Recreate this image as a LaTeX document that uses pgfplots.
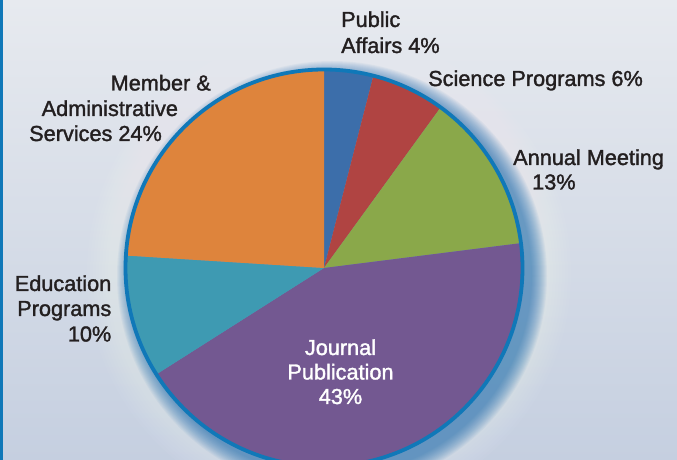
\documentclass[border=0pt]{standalone}
\usepackage{pgfplots}
\pgfplotsset{compat=1.18}
\usepackage{pgfplotstable}
\usepackage{fontspec}
\setmainfont{Liberation Sans}[BoldFont={Liberation Sans}, BoldFeatures={FakeBold=1.5}]

\definecolor{slice0}{RGB}{60,110,170}
\definecolor{slice1}{RGB}{176,68,66}
\definecolor{slice2}{RGB}{138,168,74}
\definecolor{slice3}{RGB}{115,88,145}
\definecolor{slice4}{RGB}{62,154,178}
\definecolor{slice5}{RGB}{222,132,60}
\definecolor{ring}{RGB}{16,120,184}
\definecolor{shadowblue}{RGB}{25,105,175}
\definecolor{bgtop}{RGB}{231,234,239}
\definecolor{bgbot}{RGB}{197,207,224}
\definecolor{txt}{RGB}{35,31,32}

\newcommand\lf{\fontsize{21.7}{26}\selectfont\bfseries}

% shares in percent, clockwise from the top
\pgfplotstableread{
label value
PublicAffairs 4
SciencePrograms 6
AnnualMeeting 13
JournalPublication 43
EducationPrograms 10
MemberAdministrative 24
}\piedata

\begin{document}
\begin{tikzpicture}
\begin{axis}[
  width=677pt, height=460pt, scale only axis,
  xmin=0, xmax=677, ymin=-460, ymax=0,
  hide axis, clip=true,
]
% background
\shade[top color=bgtop, bottom color=bgbot] (axis cs:0,0) rectangle (axis cs:677,-460);
\fill[ring] (axis cs:0,0) rectangle (axis cs:3,-460);

% light halo
\pgfplotsinvokeforeach{242,239,236,233,230,227,224,221}{
  \fill[white, opacity=0.035] (axis cs:329,-273) circle[radius=#1pt];
}
% soft shadow
\pgfplotsinvokeforeach{215,214,213,212,211,210,209,208,207,206,205,204,203,202,201,200}{
  \fill[shadowblue, opacity=0.05] (axis cs:332,-276) circle[radius=#1pt];
}

% slices
\def\cum{0}
\pgfplotsforeachungrouped \i in {0,...,5}{
  \pgfplotstablegetelem{\i}{value}\of\piedata
  \let\v\pgfplotsretval
  \pgfmathsetmacro{\aStart}{90-3.6*\cum}
  \pgfmathsetmacro{\cum}{\cum+\v}
  \pgfmathsetmacro{\aEnd}{90-3.6*\cum}
  \edef\temp{\noexpand\fill[slice\i] (axis cs:324,-268) -- ++(\aStart:198pt) arc[start angle=\aStart, end angle=\aEnd, radius=198pt] -- cycle;}
  \temp
}
\draw[ring, line width=3.8pt] (axis cs:324,-268) circle[radius=198.5pt];

% labels
\begin{scope}[every node/.style={inner sep=0pt, text=txt, font=\lf}]
\node[anchor=base west] at (axis cs:341,-27) {Public};
\node[anchor=base west] at (axis cs:341,-53) {Affairs 4\%};
\node[anchor=base west] at (axis cs:428,-86) {Science Programs 6\%};
\node[anchor=base west] at (axis cs:513,-165) {Annual Meeting};
\node[anchor=base west] at (axis cs:532,-189.5) {13\%};
\node[anchor=base west] at (axis cs:110.5,-90.5) {Member \&};
\node[anchor=base west] at (axis cs:41.5,-116) {Administrative};
\node[anchor=base west] at (axis cs:29,-141) {Services 24\%};
\node[anchor=base east] at (axis cs:111.5,-291) {Education};
\node[anchor=base east] at (axis cs:111.5,-316) {Programs};
\node[anchor=base east] at (axis cs:111.5,-341.5) {10\%};
\node[anchor=base, text=white] at (axis cs:340.5,-355) {Journal};
\node[anchor=base, text=white] at (axis cs:340.5,-379.5) {Publication};
\node[anchor=base, text=white] at (axis cs:340.5,-404) {43\%};
\end{scope}
\end{axis}
\pgfresetboundingbox
\path[use as bounding box] (current axis.south west) rectangle (current axis.north east);
\end{tikzpicture}
\end{document}
